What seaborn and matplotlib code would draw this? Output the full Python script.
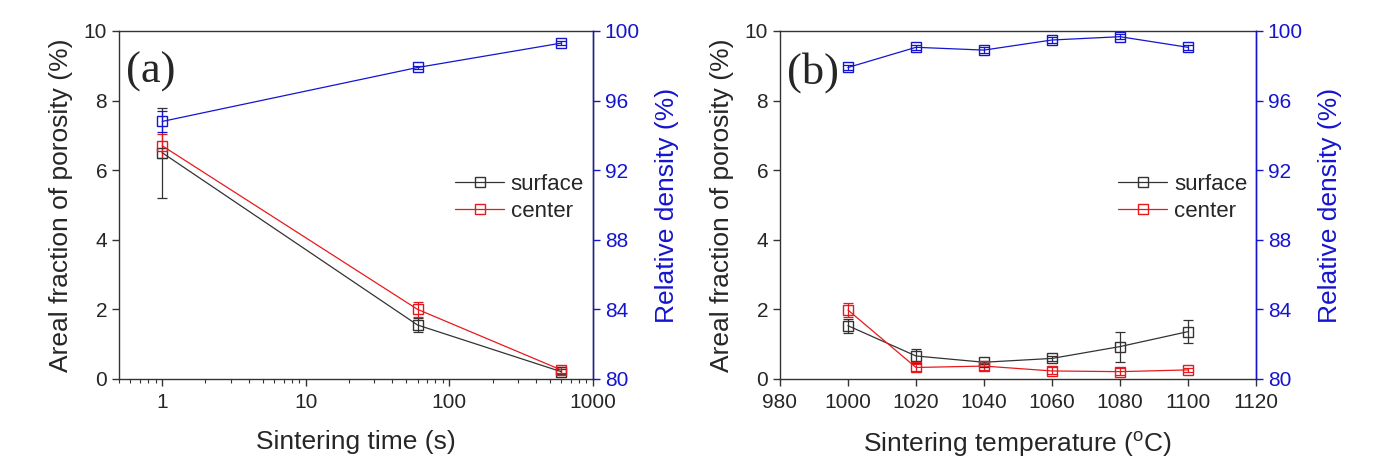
import numpy as np
import pandas as pd
import matplotlib
matplotlib.use("Agg")
import matplotlib.pyplot as plt
import seaborn as sns

# panel (a): sintering time
time_s = [1, 60, 600]
surf_a = [6.5, 1.55, 0.21]
surf_a_err = [1.3, 0.2, 0.08]
cent_a = [6.7, 2.0, 0.26]
cent_a_err = [0.35, 0.22, 0.08]
dens_a = [94.8, 97.9, 99.3]
dens_a_err = [0.6, 0.1, 0.1]

# panel (b): sintering temperature
temp_c = [1000, 1020, 1040, 1060, 1080, 1100]
surf_b = [1.53, 0.66, 0.48, 0.59, 0.93, 1.36]
surf_b_err = [0.2, 0.2, 0.05, 0.06, 0.43, 0.33]
cent_b = [1.98, 0.33, 0.37, 0.23, 0.21, 0.26]
cent_b_err = [0.2, 0.1, 0.1, 0.1, 0.1, 0.05]
dens_b = [97.9, 99.06, 98.9, 99.48, 99.67, 99.06]
dens_b_err = [0.15, 0.15, 0.15, 0.15, 0.15, 0.15]

sns.set_style("ticks")
plt.rcParams['font.family'] = ['Liberation Sans', 'DejaVu Sans']
plt.rcParams['mathtext.fontset'] = 'custom'
plt.rcParams['mathtext.rm'] = 'Liberation Sans'
plt.rcParams['mathtext.it'] = 'Liberation Sans:italic'
plt.rcParams['xtick.direction'] = 'out'
plt.rcParams['ytick.direction'] = 'out'

BLACK = '#333333'
RED = '#e8191c'
BLUE = '#1515d0'

fig = plt.figure(figsize=(13.79, 4.69), dpi=100)
ax_a = fig.add_axes([0.0863, 0.192, 0.3437, 0.742])
ax_b = fig.add_axes([0.5656, 0.192, 0.3452, 0.742])


def series(ax, x, y, err, color, label):
    d = pd.DataFrame({'x': x, 'y': y})
    ax.errorbar(x, y, yerr=err, fmt='none', ecolor=color, elinewidth=0.9,
                capsize=3.5, capthick=0.9, zorder=2)
    sns.lineplot(data=d, x='x', y='y', ax=ax, color=color, lw=0.9,
                 marker='s', markersize=7.5, markerfacecolor='none',
                 markeredgecolor=color, markeredgewidth=1.0, label=label,
                 zorder=3)


def panel(ax, x, surf, surf_err, cent, cent_err, dens, dens_err, tag, xlabel):
    series(ax, x, surf, surf_err, BLACK, 'surface')
    series(ax, x, cent, cent_err, RED, 'center')
    ax.set_ylim(0, 10)
    ax.set_yticks([0, 2, 4, 6, 8, 10])
    ax.set_ylabel('Areal fraction of porosity (%)', fontsize=19, labelpad=8)
    ax.set_xlabel(xlabel, fontsize=19, labelpad=13)
    ax.tick_params(labelsize=15, length=5, width=1, color=BLACK)
    ax.tick_params(axis='x', pad=5)
    ax.tick_params(which='minor', length=3, width=0.8, color=BLACK)
    for s in ax.spines.values():
        s.set_color(BLACK)
        s.set_linewidth(1.0)
    ax.text(0.015, 0.94, tag, transform=ax.transAxes, ha='left', va='top',
            fontsize=32, family='Liberation Serif')
    ax.legend(loc='center right', bbox_to_anchor=(1.0, 0.52), frameon=False,
              fontsize=16, handlelength=2.2, handletextpad=0.3,
              labelspacing=0.25, borderaxespad=0)

    tw = ax.twinx()
    d = pd.DataFrame({'x': x, 'y': dens})
    tw.errorbar(x, dens, yerr=dens_err, fmt='none', ecolor=BLUE,
                elinewidth=0.9, capsize=3.5, capthick=0.9)
    sns.lineplot(data=d, x='x', y='y', ax=tw, color=BLUE, lw=0.9,
                 marker='s', markersize=7.5, markerfacecolor='none',
                 markeredgecolor=BLUE, markeredgewidth=1.0)
    tw.set_ylim(80, 100)
    tw.set_yticks([80, 84, 88, 92, 96, 100])
    tw.set_ylabel('Relative density (%)', fontsize=19, color=BLUE, labelpad=11)
    tw.set_xlabel(xlabel, fontsize=19, labelpad=13)
    tw.tick_params(axis='y', labelsize=15, length=5, width=1,
                   color=BLUE, labelcolor=BLUE)
    tw.spines['right'].set_color(BLUE)
    tw.spines['right'].set_linewidth(1.0)
    for k in ('left', 'top', 'bottom'):
        tw.spines[k].set_visible(False)
    return tw


ax_a.set_xscale('log')
panel(ax_a, time_s, surf_a, surf_a_err, cent_a, cent_a_err, dens_a,
      dens_a_err, '(a)', 'Sintering time (s)')
ax_a.set_xlim(0.5, 1000)
ax_a.set_xticks([1, 10, 100, 1000])
ax_a.set_xticklabels(['1', '10', '100', '1000'])

panel(ax_b, temp_c, surf_b, surf_b_err, cent_b, cent_b_err, dens_b,
      dens_b_err, '(b)', r'Sintering temperature ($^{\rm o}$C)')
ax_b.set_xlim(980, 1120)
ax_b.set_xticks(np.arange(980, 1121, 20))

fig.savefig('out.png', dpi=100)
